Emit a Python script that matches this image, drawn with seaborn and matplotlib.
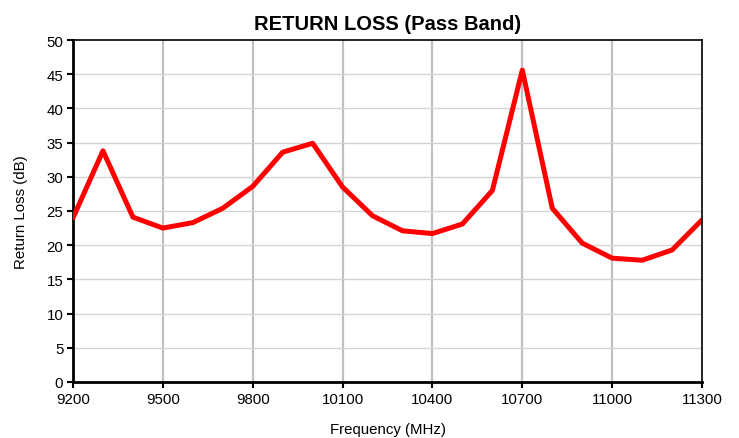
import numpy as np
import pandas as pd
import matplotlib
matplotlib.use("Agg")
import matplotlib.pyplot as plt
import seaborn as sns

# values
freq_mhz = [9200, 9300, 9400, 9500, 9600, 9700, 9800, 9900, 10000, 10100, 10200,
            10300, 10400, 10500, 10600, 10700, 10800, 10900, 11000, 11100, 11200, 11300]
return_loss_db = [24.0, 33.8, 24.1, 22.5, 23.3, 25.4, 28.6, 33.6, 34.9, 28.5, 24.3,
                  22.1, 21.7, 23.1, 28.0, 45.6, 25.4, 20.3, 18.1, 17.8, 19.3, 23.7]
x_ticks = [9200, 9500, 9800, 10100, 10400, 10700, 11000, 11300]
y_ticks = list(range(0, 51, 5))

df = pd.DataFrame({"Frequency (MHz)": freq_mhz, "Return Loss (dB)": return_loss_db})

sns.set_style("white")
plt.rcParams['font.family'] = ['Liberation Sans', 'DejaVu Sans']
plt.rcParams['text.color'] = 'black'
plt.rcParams['axes.labelcolor'] = 'black'

fig = plt.figure(figsize=(7.39, 4.39), dpi=100)
ax = fig.add_axes([0.0988, 0.1276, 0.8512, 0.779])

sns.lineplot(data=df, x="Frequency (MHz)", y="Return Loss (dB)", ax=ax,
             color="#ff0000", linewidth=3.6, zorder=3)

ax.set_xlim(9200, 11300)
ax.set_ylim(0, 50)
ax.set_xticks(x_ticks)
ax.set_yticks(y_ticks)
ax.set_xticklabels([str(t) for t in x_ticks], fontsize=10.8)
ax.set_yticklabels([str(t) for t in y_ticks], fontsize=10.8)

# vertical grid thicker than horizontal, like the original
ax.grid(False)
for xt in x_ticks[1:-1]:
    ax.axvline(xt, color="#c0c0c0", linewidth=1.6, zorder=1)
for yt in y_ticks[1:-1]:
    ax.axhline(yt, color="#d4d4d4", linewidth=1.0, zorder=1)

for side in ["left", "bottom"]:
    ax.spines[side].set_linewidth(2.0)
    ax.spines[side].set_color("black")
for side in ["top", "right"]:
    ax.spines[side].set_linewidth(1.2)
    ax.spines[side].set_color("black")
ax.spines["right"].set_zorder(4)

ax.tick_params(axis="both", direction="out", length=4, width=1.5, colors="black",
               labelcolor="black", bottom=True, left=True, pad=3)

ax.set_title("RETURN LOSS (Pass Band)", fontsize=14.5, fontweight="bold", pad=8,
             color="black")
ax.set_xlabel("Frequency (MHz)", fontsize=10.8, labelpad=12)
ax.set_ylabel("Return Loss (dB)", fontsize=10.8, labelpad=13)

fig.savefig("out.png", dpi=100)
